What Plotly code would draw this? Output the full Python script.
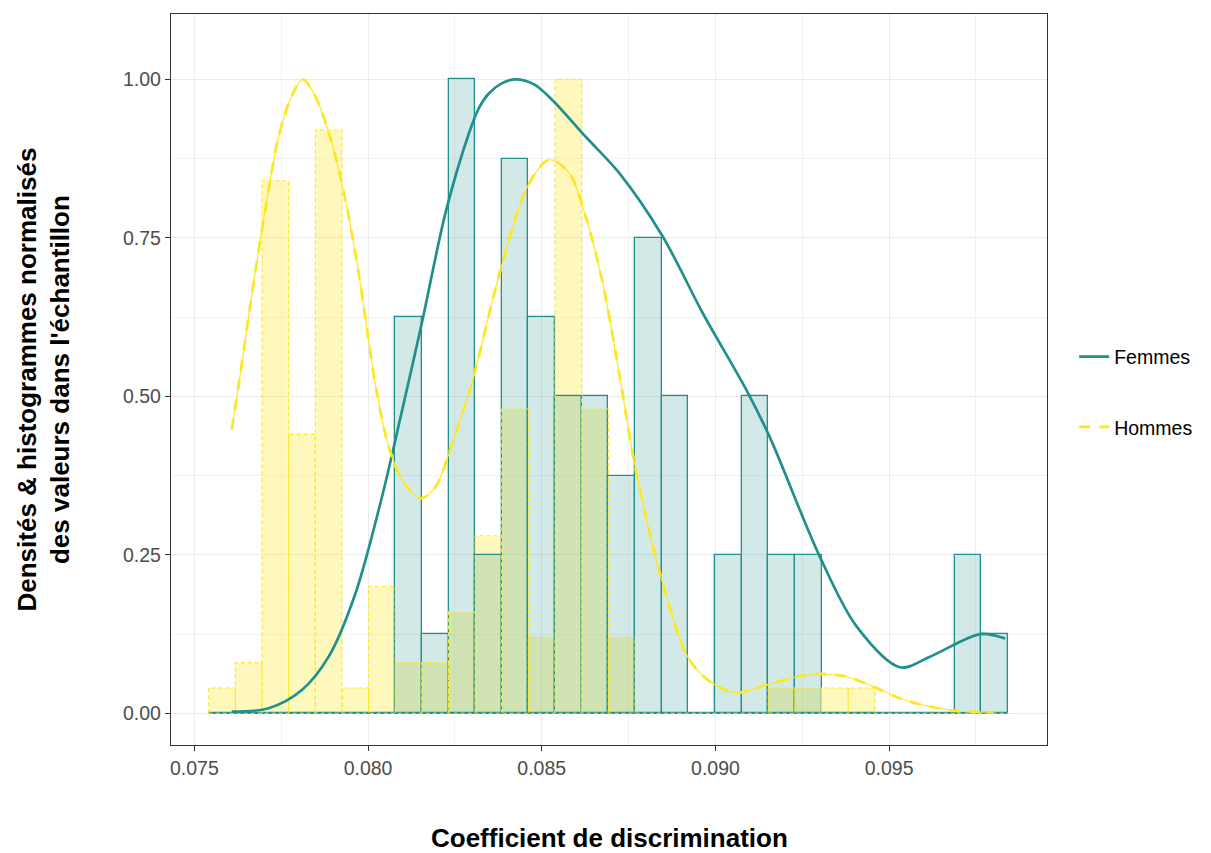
import numpy as np
import plotly.graph_objects as go

# ---------------- data ----------------
bin_start = 0.075413
bin_width = 0.000767
n_bins = 30

femmes_hist = [0, 0, 0, 0, 0, 0, 0, 0.625, 0.125, 1.0, 0.25, 0.875, 0.625, 0.5, 0.5,
               0.375, 0.75, 0.5, 0, 0.25, 0.5, 0.25, 0.25, 0, 0, 0, 0, 0, 0.25, 0.125]
hommes_hist = [0.04, 0.08, 0.84, 0.44, 0.92, 0.04, 0.20, 0.08, 0.08, 0.16, 0.28, 0.48, 0.12, 1.0, 0.48,
               0.12, 0, 0, 0, 0, 0, 0.04, 0.04, 0.04, 0.04, 0, 0, 0, 0, 0]

femmes_dens_x = [0.076076, 0.077135, 0.078096, 0.078866, 0.079637, 0.080404, 0.080981, 0.081558,
                 0.082233, 0.082905, 0.083194, 0.083482, 0.083857, 0.084253, 0.084781, 0.085309,
                 0.086272, 0.087233, 0.088483, 0.089637, 0.090889, 0.091561, 0.093004, 0.094062,
                 0.095312, 0.096177, 0.097620, 0.098341]
femmes_dens_y = [0.0025, 0.0079, 0.0368, 0.0893, 0.189, 0.342, 0.478, 0.618,
                 0.790, 0.915, 0.955, 0.978, 0.994, 1.0, 0.992, 0.967,
                 0.909, 0.852, 0.752, 0.631, 0.510, 0.436, 0.247, 0.137,
                 0.0726, 0.0893, 0.125, 0.118]

hommes_dens_x = [0.076076, 0.076319, 0.076558, 0.076942, 0.077424, 0.077807, 0.078125, 0.078482,
                 0.078961, 0.079348, 0.079732, 0.080214, 0.080597, 0.080981, 0.081512, 0.081945,
                 0.082328, 0.082712, 0.083001, 0.083866, 0.084637, 0.085214, 0.085791, 0.086272,
                 0.086751, 0.087233, 0.087715, 0.088483, 0.089253, 0.089925, 0.090600,
                 0.091466, 0.092332, 0.093099, 0.093774, 0.094542, 0.095312, 0.096177, 0.096948,
                 0.098004]
hommes_dens_y = [0.447, 0.534, 0.624, 0.761, 0.909, 0.974, 1.0, 0.973,
                 0.899, 0.810, 0.694, 0.518, 0.420, 0.368, 0.339, 0.357,
                 0.410, 0.473, 0.523, 0.710, 0.836, 0.873, 0.852, 0.782,
                 0.680, 0.535, 0.382, 0.205, 0.084, 0.047, 0.0325,
                 0.0446, 0.0577, 0.062, 0.0577, 0.042, 0.0237, 0.0104, 0.0036,
                 0.0016]

x_ticks = [0.075, 0.080, 0.085, 0.090, 0.095]
x_ticklabels = ["0.075", "0.080", "0.085", "0.090", "0.095"]
y_ticks = [0.0, 0.25, 0.5, 0.75, 1.0]
y_ticklabels = ["0.00", "0.25", "0.50", "0.75", "1.00"]

# ---------------- styles ----------------
TEAL = "#21908C"
YELLOW = "#FDE725"
TEAL_FILL = "rgba(33,144,140,0.2)"
YELLOW_FILL = "rgba(253,231,37,0.3)"
FONT = "Liberation Sans, Arial, sans-serif"

edges = bin_start + bin_width * np.arange(n_bins + 1)
centers = (edges[:-1] + edges[1:]) / 2


def outline(heights):
    xs, ys = [], []
    for i, h in enumerate(heights):
        if h > 0:
            xs += [edges[i], edges[i], edges[i + 1], edges[i + 1], None]
            ys += [0, h, h, 0, None]
    return xs, ys


fig = go.Figure()

# Hommes histogram (fill + dashed outline)
fig.add_trace(go.Bar(x=centers, y=hommes_hist, width=bin_width,
                     marker=dict(color=YELLOW_FILL, line=dict(width=0)),
                     showlegend=False, hoverinfo="skip"))
hx, hy = outline(hommes_hist)
fig.add_trace(go.Scatter(x=hx, y=hy, mode="lines",
                         line=dict(color=YELLOW, width=1.1, dash="4px,3px"),
                         showlegend=False, hoverinfo="skip"))

# Femmes histogram
fig.add_trace(go.Bar(x=centers, y=femmes_hist, width=bin_width,
                     marker=dict(color=TEAL_FILL, line=dict(color=TEAL, width=1.3)),
                     showlegend=False, hoverinfo="skip"))

# baseline for empty bins
fig.add_trace(go.Scatter(x=[edges[0], edges[-1]], y=[0, 0], mode="lines",
                         line=dict(color=TEAL, width=1.3),
                         showlegend=False, hoverinfo="skip"))
fig.add_trace(go.Scatter(x=[edges[0], edges[-1]], y=[0, 0], mode="lines",
                         line=dict(color=YELLOW, width=1.1, dash="4px,3px"),
                         showlegend=False, hoverinfo="skip"))

# densities
fig.add_trace(go.Scatter(x=femmes_dens_x, y=femmes_dens_y, mode="lines",
                         line=dict(color=TEAL, width=2.7, shape="spline", smoothing=0.9),
                         name="Femmes", legendgroup="f"))
fig.add_trace(go.Scatter(x=hommes_dens_x, y=hommes_dens_y, mode="lines",
                         line=dict(color=YELLOW, width=1.2, shape="spline", smoothing=0.9),
                         showlegend=False, hoverinfo="skip", legendgroup="h"))
fig.add_trace(go.Scatter(x=hommes_dens_x, y=hommes_dens_y, mode="lines",
                         line=dict(color=YELLOW, width=2.8, shape="spline", smoothing=0.9,
                                   dash="11px,9px"),
                         name="Hommes", legendgroup="h"))

fig.update_layout(
    width=1203, height=845,
    margin=dict(l=163, r=164, t=6, b=108),
    paper_bgcolor="white", plot_bgcolor="white",
    barmode="overlay", bargap=0,
    font=dict(family=FONT, color="#4D4D4D"),
    showlegend=True,
    legend=dict(x=1.031, y=0.483, xanchor="left", yanchor="middle",
                font=dict(size=19.5, color="black", family=FONT),
                tracegroupgap=42, bgcolor="rgba(0,0,0,0)"),
    xaxis=dict(range=[0.074328, 0.099544], tickvals=x_ticks, ticktext=x_ticklabels,
               showgrid=True, gridcolor="#EBEBEB", gridwidth=1.2,
               minor=dict(dtick=0.0025, tick0=0.0775, showgrid=True, gridcolor="#F2F2F2",
                          gridwidth=1, ticks=""),
               ticks="outside", ticklen=5, tickcolor="#333333", tickwidth=1.2,
               tickfont=dict(size=19.5, color="#4D4D4D"),
               showline=True, linecolor="#333333", linewidth=1.3, mirror=True,
               zeroline=False),
    yaxis=dict(range=[-0.05, 1.103], tickvals=y_ticks, ticktext=y_ticklabels,
               showgrid=True, gridcolor="#EBEBEB", gridwidth=1.2,
               minor=dict(dtick=0.25, tick0=0.125, showgrid=True, gridcolor="#F2F2F2",
                          gridwidth=1, ticks=""),
               ticks="outside", ticklen=5, tickcolor="#333333", tickwidth=1.2,
               tickfont=dict(size=19.5, color="#4D4D4D"),
               showline=True, linecolor="#333333", linewidth=1.3, mirror=True,
               zeroline=False),
    annotations=[
        dict(text="<b>Coefficient de discrimination</b>", xref="paper", yref="paper",
             x=0.5, y=0, yshift=-93, xanchor="center", yanchor="middle", showarrow=False,
             font=dict(size=26, color="black", family=FONT)),
        dict(text="<b>Densités & histogrammes normalisés<br>des valeurs dans l'échantillon</b>",
             xref="paper", yref="paper", x=0, xshift=-128, y=0.5, textangle=-90,
             xanchor="center", yanchor="middle", showarrow=False,
             font=dict(size=26, color="black", family=FONT)),
    ],
)

fig.write_html("out.html")
